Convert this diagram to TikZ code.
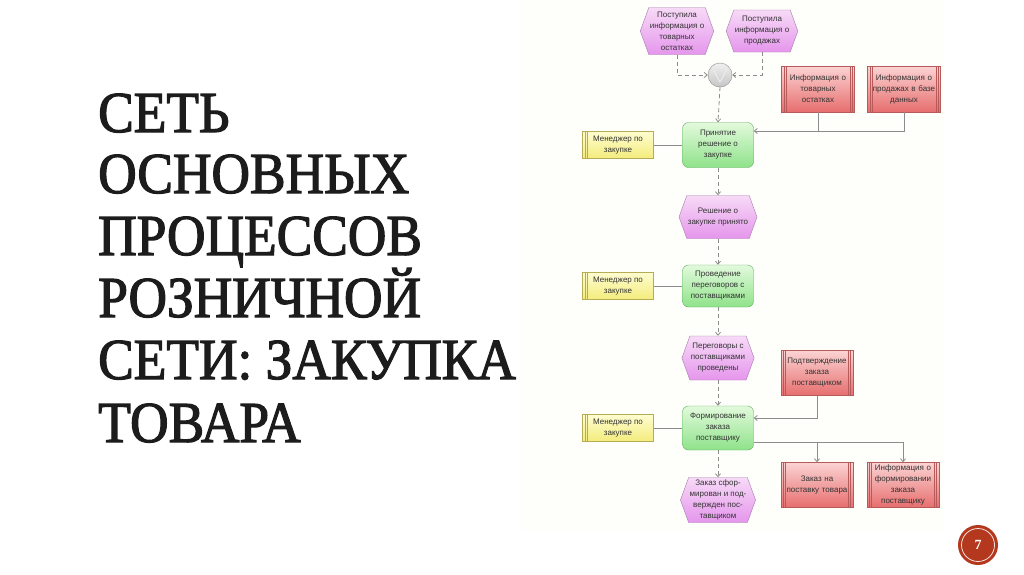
\documentclass[tikz,border=0pt]{standalone}
\usepackage{fontspec}
\setmainfont{Liberation Sans}
\newfontfamily\titlefont[FakeStretch=0.92,FakeBold=2]{Liberation Serif}
\newfontfamily\numfont{Liberation Serif}
\usetikzlibrary{shapes.symbols,arrows.meta,calc}
\definecolor{titlecol}{HTML}{1C1C1C}
\definecolor{txt}{HTML}{333333}
\definecolor{linec}{HTML}{8C8C8C}
\definecolor{evtop}{HTML}{F7DAF7}
\definecolor{evbot}{HTML}{E596EC}
\definecolor{evdraw}{HTML}{A77AAE}
\definecolor{fntop}{HTML}{E2FADC}
\definecolor{fnbot}{HTML}{8FE28A}
\definecolor{fndraw}{HTML}{5FAF5F}
\definecolor{rdtop}{HTML}{FBD3D3}
\definecolor{rdbot}{HTML}{E76E6E}
\definecolor{rddraw}{HTML}{B85A5A}
\definecolor{yltop}{HTML}{FFFDD0}
\definecolor{ylbot}{HTML}{F3EC7C}
\definecolor{yldraw}{HTML}{B5AC55}
\definecolor{pagered}{HTML}{B3381D}
\definecolor{panel}{HTML}{FEFEFA}
\tikzset{
  boxtext/.style={font=\fontsize{8}{11}\selectfont, text=txt, align=center, inner sep=1pt},
  evt/.style={boxtext, signal, signal to=east and west, signal pointer angle=140,
    draw=evdraw, top color=evtop, bottom color=evbot, minimum width=70pt, minimum height=44pt},
  fnc/.style={boxtext, rectangle, rounded corners=6pt, draw=fndraw, top color=fntop, bottom color=fnbot,
    minimum width=71pt, minimum height=44pt},
  infobox/.style={boxtext, rectangle, draw=rddraw, top color=rdtop, bottom color=rdbot,
    minimum width=73pt, minimum height=46pt, text width=66pt,
    path picture={
      \draw[rddraw, line width=0.5pt]
        ([xshift=2.5pt]path picture bounding box.north west) -- ([xshift=2.5pt]path picture bounding box.south west)
        ([xshift=4.5pt]path picture bounding box.north west) -- ([xshift=4.5pt]path picture bounding box.south west)
        ([xshift=-2.5pt]path picture bounding box.north east) -- ([xshift=-2.5pt]path picture bounding box.south east)
        ([xshift=-4.5pt]path picture bounding box.north east) -- ([xshift=-4.5pt]path picture bounding box.south east);
    }},
  orgbox/.style={boxtext, rectangle, draw=yldraw, top color=yltop, bottom color=ylbot,
    minimum width=71pt, minimum height=27pt,
    path picture={
      \draw[yldraw, line width=0.5pt]
        ([xshift=2.5pt]path picture bounding box.north west) -- ([xshift=2.5pt]path picture bounding box.south west)
        ([xshift=4.5pt]path picture bounding box.north west) -- ([xshift=4.5pt]path picture bounding box.south west);
    }},
  xorc/.style={circle, draw=linec, top color=gray!12, bottom color=gray!45, minimum size=24pt, inner sep=0pt},
  plainline/.style={draw=linec, line width=0.8pt},
  flowarrow/.style={plainline, -{Straight Barb[length=3pt,width=5pt]}},
  dashflow/.style={flowarrow, dash pattern=on 4pt off 3pt},
  titleline/.style={anchor=base west, text=titlecol, inner sep=0pt,
    font=\titlefont\fontsize{58}{58}\selectfont}
}
\begin{document}
\begin{tikzpicture}[x=1pt,y=-1pt]
\useasboundingbox (0,0) rectangle (1024,574);
\fill[white] (0,0) rectangle (1024,574);
\fill[panel] (519,0) rectangle (945,530);

% title
\node[titleline] (t1) at (98,132) {СЕТЬ};
\node[titleline] (t2) at (98,193) {ОСНОВНЫХ};
\node[titleline] (t3) at (98,255) {ПРОЦЕССОВ};
\node[titleline] (t4) at (98,317) {РОЗНИЧНОЙ};
\node[titleline] (t5) at (98,379) {СЕТИ: ЗАКУПКА};
\node[titleline] (t6) at (98,442) {ТОВАРА};

% events
\node[evt, minimum width=73pt, minimum height=47pt] (e1) at (677,31) {Поступила\\информация о\\товарных\\остатках};
\node[evt, minimum height=42pt] (e2) at (762,31) {Поступила\\информация о\\продажах};
\node[xorc] (xor) at (720,75) {};
\draw[white!85!gray, line width=1pt] ($(xor)+(-7,-6)$) -- ($(xor)+(0,7)$) -- ($(xor)+(7,-6)$);

\node[infobox] (r1) at (818,89) {Информация о\\товарных\\остатках};
\node[infobox] (r2) at (904,89) {Информация о\\продажах в базе\\данных};

\node[fnc, minimum height=45pt] (f1) at (718,145) {Принятие\\решение о\\закупке};
\node[orgbox] (y1) at (618,145) {Менеджер по\\закупке};

\node[evt, minimum height=43pt] (e3) at (718,217) {Решение о\\закупке принято};

\node[fnc, minimum height=42pt] (f2) at (718,286) {Проведение\\переговоров с\\поставщиками};
\node[orgbox] (y2) at (618,286) {Менеджер по\\закупке};

\node[evt] (e4) at (718,358) {Переговоры с\\поставщиками\\проведены};

\node[fnc] (f3) at (718,428) {Формирование\\заказа\\поставщику};
\node[orgbox] (y3) at (618,428) {Менеджер по\\закупке};

\node[infobox, minimum width=72pt, minimum height=45pt] (r3) at (817,373) {Подтверждение\\заказа\\поставщиком};
\node[infobox, minimum width=72pt, minimum height=45pt] (r4) at (817,485) {Заказ на\\поставку товара};
\node[infobox, minimum width=72pt, minimum height=45pt] (r5) at (903,485) {Информация о\\формировании\\заказа\\поставщику};

\node[evt, minimum height=45pt] (e5) at (718,500) {Заказ сфор-\\мирован и под-\\вержден пос-\\тавщиком};

% connectors
\draw[dashflow] (e1.south) |- (xor.west);
\draw[dashflow] (e2.south) |- (xor.east);
\draw[dashflow] (xor.south) -- (f1.north);

\coordinate (j1) at (818,131);
\draw[plainline] (r1.south) -- (j1);
\draw[flowarrow] (r2.south) |- (f1.east |- j1);

\draw[plainline] (y1.east) -- (f1.west);
\draw[plainline] (y2.east) -- (f2.west);
\draw[plainline] (y3.east) -- (f3.west);

\draw[dashflow] (f1.south) -- (e3.north);
\draw[dashflow] (e3.south) -- (f2.north);
\draw[dashflow] (f2.south) -- (e4.north);
\draw[dashflow] (e4.south) -- (f3.north);
\draw[dashflow] (f3.south) -- (e5.north);

\coordinate (j3) at (817,418);
\draw[flowarrow] (r3.south) |- (f3.east |- j3);

\coordinate (j4) at (903,442);
\draw[plainline] (f3.east |- j4) -- (j4);
\draw[flowarrow] (j4) -- (r5.north);
\draw[flowarrow] (r4.north |- j4) -- (r4.north);

% page number
\node[circle, fill=pagered, minimum size=40pt, inner sep=0pt] (pg) at (978,545) {};
\node[circle, draw=white!85!pagered, line width=0.8pt, minimum size=33pt, inner sep=0pt,
  text=white, font=\numfont\bfseries\fontsize{14}{14}\selectfont] (pgn) at (pg) {7};
\end{tikzpicture}
\end{document}
